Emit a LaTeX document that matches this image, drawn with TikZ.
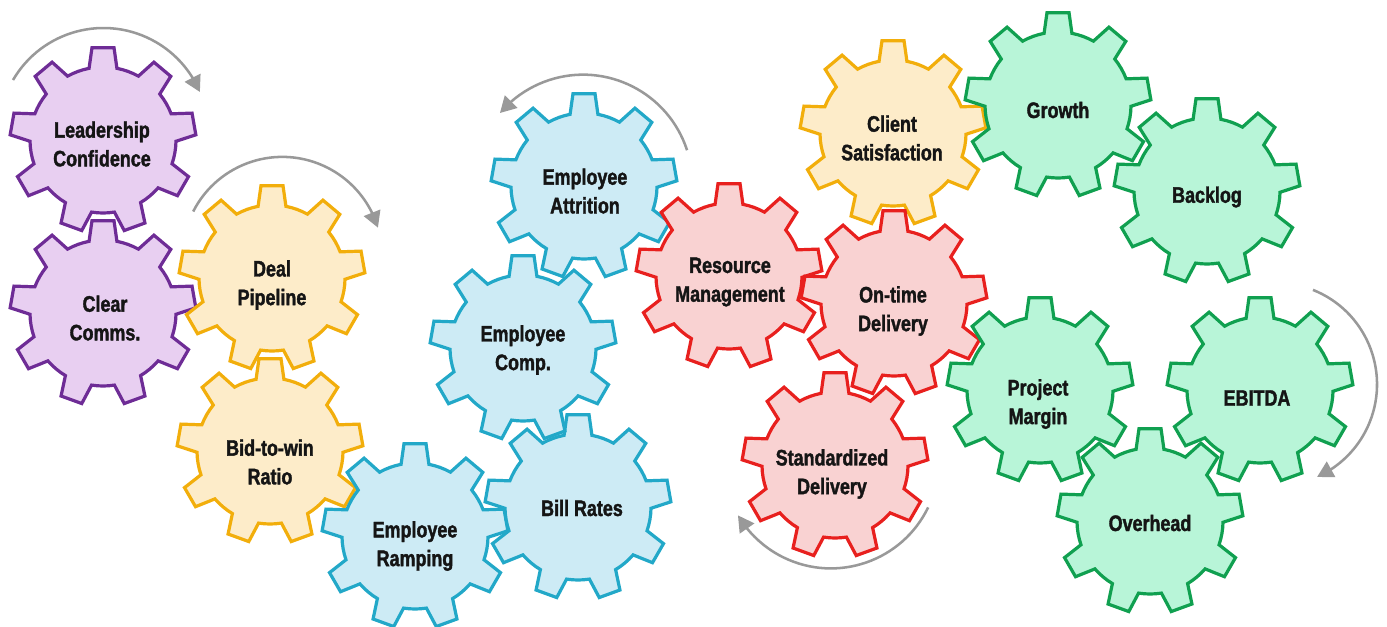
\documentclass[tikz,border=0pt]{standalone}
\usepackage{fontspec}
\newfontfamily\gearfont[FakeStretch=0.8,FakeBold=1.6]{Liberation Sans}
\usetikzlibrary{arrows.meta,bending}
\definecolor{purS}{HTML}{6E2C96}\definecolor{purF}{HTML}{E8CFF1}
\definecolor{yelS}{HTML}{F2AE0B}\definecolor{yelF}{HTML}{FDECC9}
\definecolor{bluS}{HTML}{22A8C8}\definecolor{bluF}{HTML}{CDEBF5}
\definecolor{redS}{HTML}{E8201E}\definecolor{redF}{HTML}{F9D2D2}
\definecolor{grnS}{HTML}{10A050}\definecolor{grnF}{HTML}{B8F5D8}
\definecolor{txt}{HTML}{151515}
\definecolor{arrG}{HTML}{999999}
\tikzset{
  gearbase/.style={line width=2.4pt, line join=miter},
  purg/.style={gearbase, draw=purS, fill=purF},
  yelg/.style={gearbase, draw=yelS, fill=yelF},
  blug/.style={gearbase, draw=bluS, fill=bluF},
  redg/.style={gearbase, draw=redS, fill=redF},
  grng/.style={gearbase, draw=grnS, fill=grnF},
  gtext/.style={align=center, text=txt, inner sep=0pt,
    font=\gearfont\bfseries\fontsize{16.8}{21.5}\selectfont},
  rotarrow/.style={draw=arrG, line width=1.9pt,
    -{Triangle[length=12pt,width=13pt,fill=arrG]}}
}
\newcommand\mygear[4]{%
  \begin{scope}[shift={(#2,-#3)}]
    \draw[#4] ({90-11}:73) \foreach \k in {0,...,8}{
      -- ({90+40*\k-6.8}:93) -- ({90+40*\k+6.8}:93) -- ({90+40*\k+11}:73)
      arc[start angle={90+40*\k+11}, end angle={90+40*\k+29}, radius=54.75pt]} -- cycle;
    \coordinate (#1) at (0,0);
  \end{scope}}
\begin{document}
\begin{tikzpicture}[x=0.75pt,y=0.75pt]
\fill[white] (0,0) rectangle (1387,-627);
\useasboundingbox (0,0) rectangle (1387,-627);
% gears
\mygear{gLead}{103}{140}{purg}
\mygear{gClear}{103}{313}{purg}
\mygear{gDeal}{272}{278}{yelg}
\mygear{gBid}{270}{451}{yelg}
\mygear{gRamp}{415}{536}{blug}
\mygear{gBill}{578}{507}{blug}
\mygear{gComp}{523}{348}{blug}
\mygear{gAttr}{584}{186}{blug}
\mygear{gRes}{729}{276}{redg}
\mygear{gStd}{835}{465}{redg}
\mygear{gClient}{893}{133}{yelg}
\mygear{gOn}{894}{303}{redg}
\mygear{gGrowth}{1058}{105}{grng}
\mygear{gBack}{1207}{191}{grng}
\mygear{gPM}{1040}{390}{grng}
\mygear{gEbit}{1260}{390}{grng}
\mygear{gOver}{1150}{521}{grng}
% labels
\node[gtext] (tLead) at (102,-144) {Leadership\\Confidence};
\node[gtext] (tClear) at (105,-318) {Clear\\Comms.};
\node[gtext] (tDeal) at (272,-285) {Deal\\Pipeline};
\node[gtext] (tBid) at (270,-462) {Bid-to-win\\Ratio};
\node[gtext] (tRamp) at (415,-546) {Employee\\Ramping};
\node[gtext] (tBill) at (582,-508) {Bill Rates};
\node[gtext] (tComp) at (523,-350) {Employee\\Comp.};
\node[gtext] (tAttr) at (585,-191) {Employee\\Attrition};
\node[gtext] (tRes) at (730,-282) {Resource\\Management};
\node[gtext] (tOn) at (893,-311) {On-time\\Delivery};
\node[gtext] (tStd) at (832,-474) {Standardized\\Delivery};
\node[gtext] (tClient) at (892,-138) {Client\\Satisfaction};
\node[gtext] (tGrowth) at (1058,-110) {Growth};
\node[gtext] (tBack) at (1207,-197) {Backlog};
\node[gtext] (tPM) at (1038,-404) {Project\\Margin};
\node[gtext] (tEbit) at (1257,-398) {EBITDA};
\node[gtext] (tOver) at (1150,-523) {Overhead};
% rotation arrows
\coordinate (c1) at (103.5,-132.7);
\coordinate (c2) at (282.3,-256.9);
\coordinate (c3) at (583.1,-184);
\coordinate (c4) at (830.9,-460.4);
\coordinate (c5) at (1275.4,-384.3);
\draw[rotarrow] (c1) ++(149.8:104.7) arc[start angle=149.8, end angle=22.9, radius=78.5pt];
\draw[rotarrow] (c2) ++(153:100) arc[start angle=153, end angle=17, radius=75pt];
\draw[rotarrow] (c3) ++(18:109.3) arc[start angle=18, end angle=139.5, radius=82pt];
\draw[rotarrow] (c4) ++(-25.8:108) arc[start angle=-25.8, end angle=-149.4, radius=81pt];
\draw[rotarrow] (c5) ++(68.3:101.6) arc[start angle=68.3, end angle=-65.8, radius=76.2pt];
\end{tikzpicture}
\end{document}
